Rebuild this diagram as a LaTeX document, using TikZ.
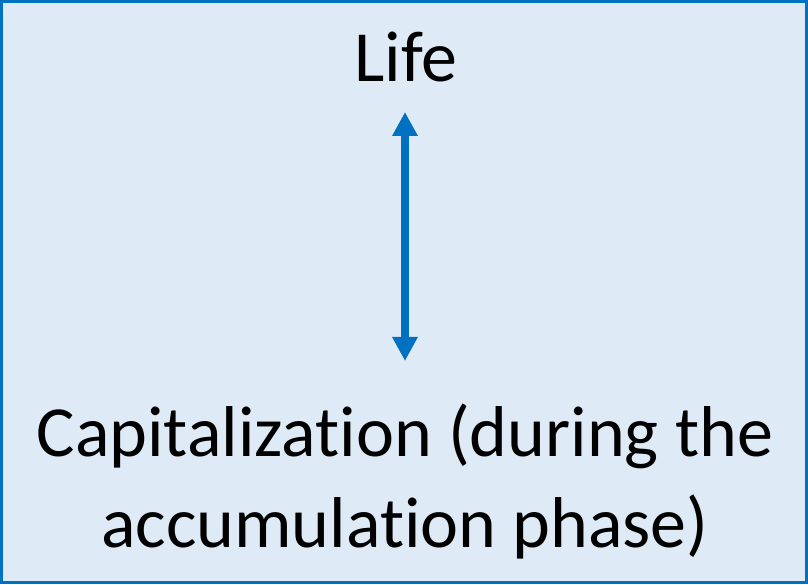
\documentclass[tikz,border=0pt]{standalone}
\usepackage{fontspec}
\setmainfont{Carlito}[Ligatures=NoCommon]
\usetikzlibrary{arrows.meta}
\definecolor{boxblue}{RGB}{0,112,192}
\definecolor{boxfill}{RGB}{222,234,246}
\tikzset{
  frame/.style={draw=boxblue, fill=boxfill, line width=3pt},
  bigtext/.style={font=\fontsize{72}{91}\selectfont, inner sep=0pt, text=black},
  dblarrow/.style={draw=boxblue, line width=7.5pt, {Triangle[width=24pt,length=24pt]}-{Triangle[width=24pt,length=24pt]}}
}
\begin{document}
\begin{tikzpicture}[x=1pt,y=1pt]
\useasboundingbox (0,0) rectangle (808,585);
\path[frame] (1.5,2) rectangle (806,583);
\node[bigtext, anchor=base] (life) at (406,503) {Life};
\node[bigtext, anchor=base, align=center] (cap) at (405,37) {Capitalization (during the\\accumulation phase)};
\coordinate (top) at (405,473);
\coordinate (bot) at (405,224);
\draw[dblarrow] (bot) -- (top);
\end{tikzpicture}
\end{document}
